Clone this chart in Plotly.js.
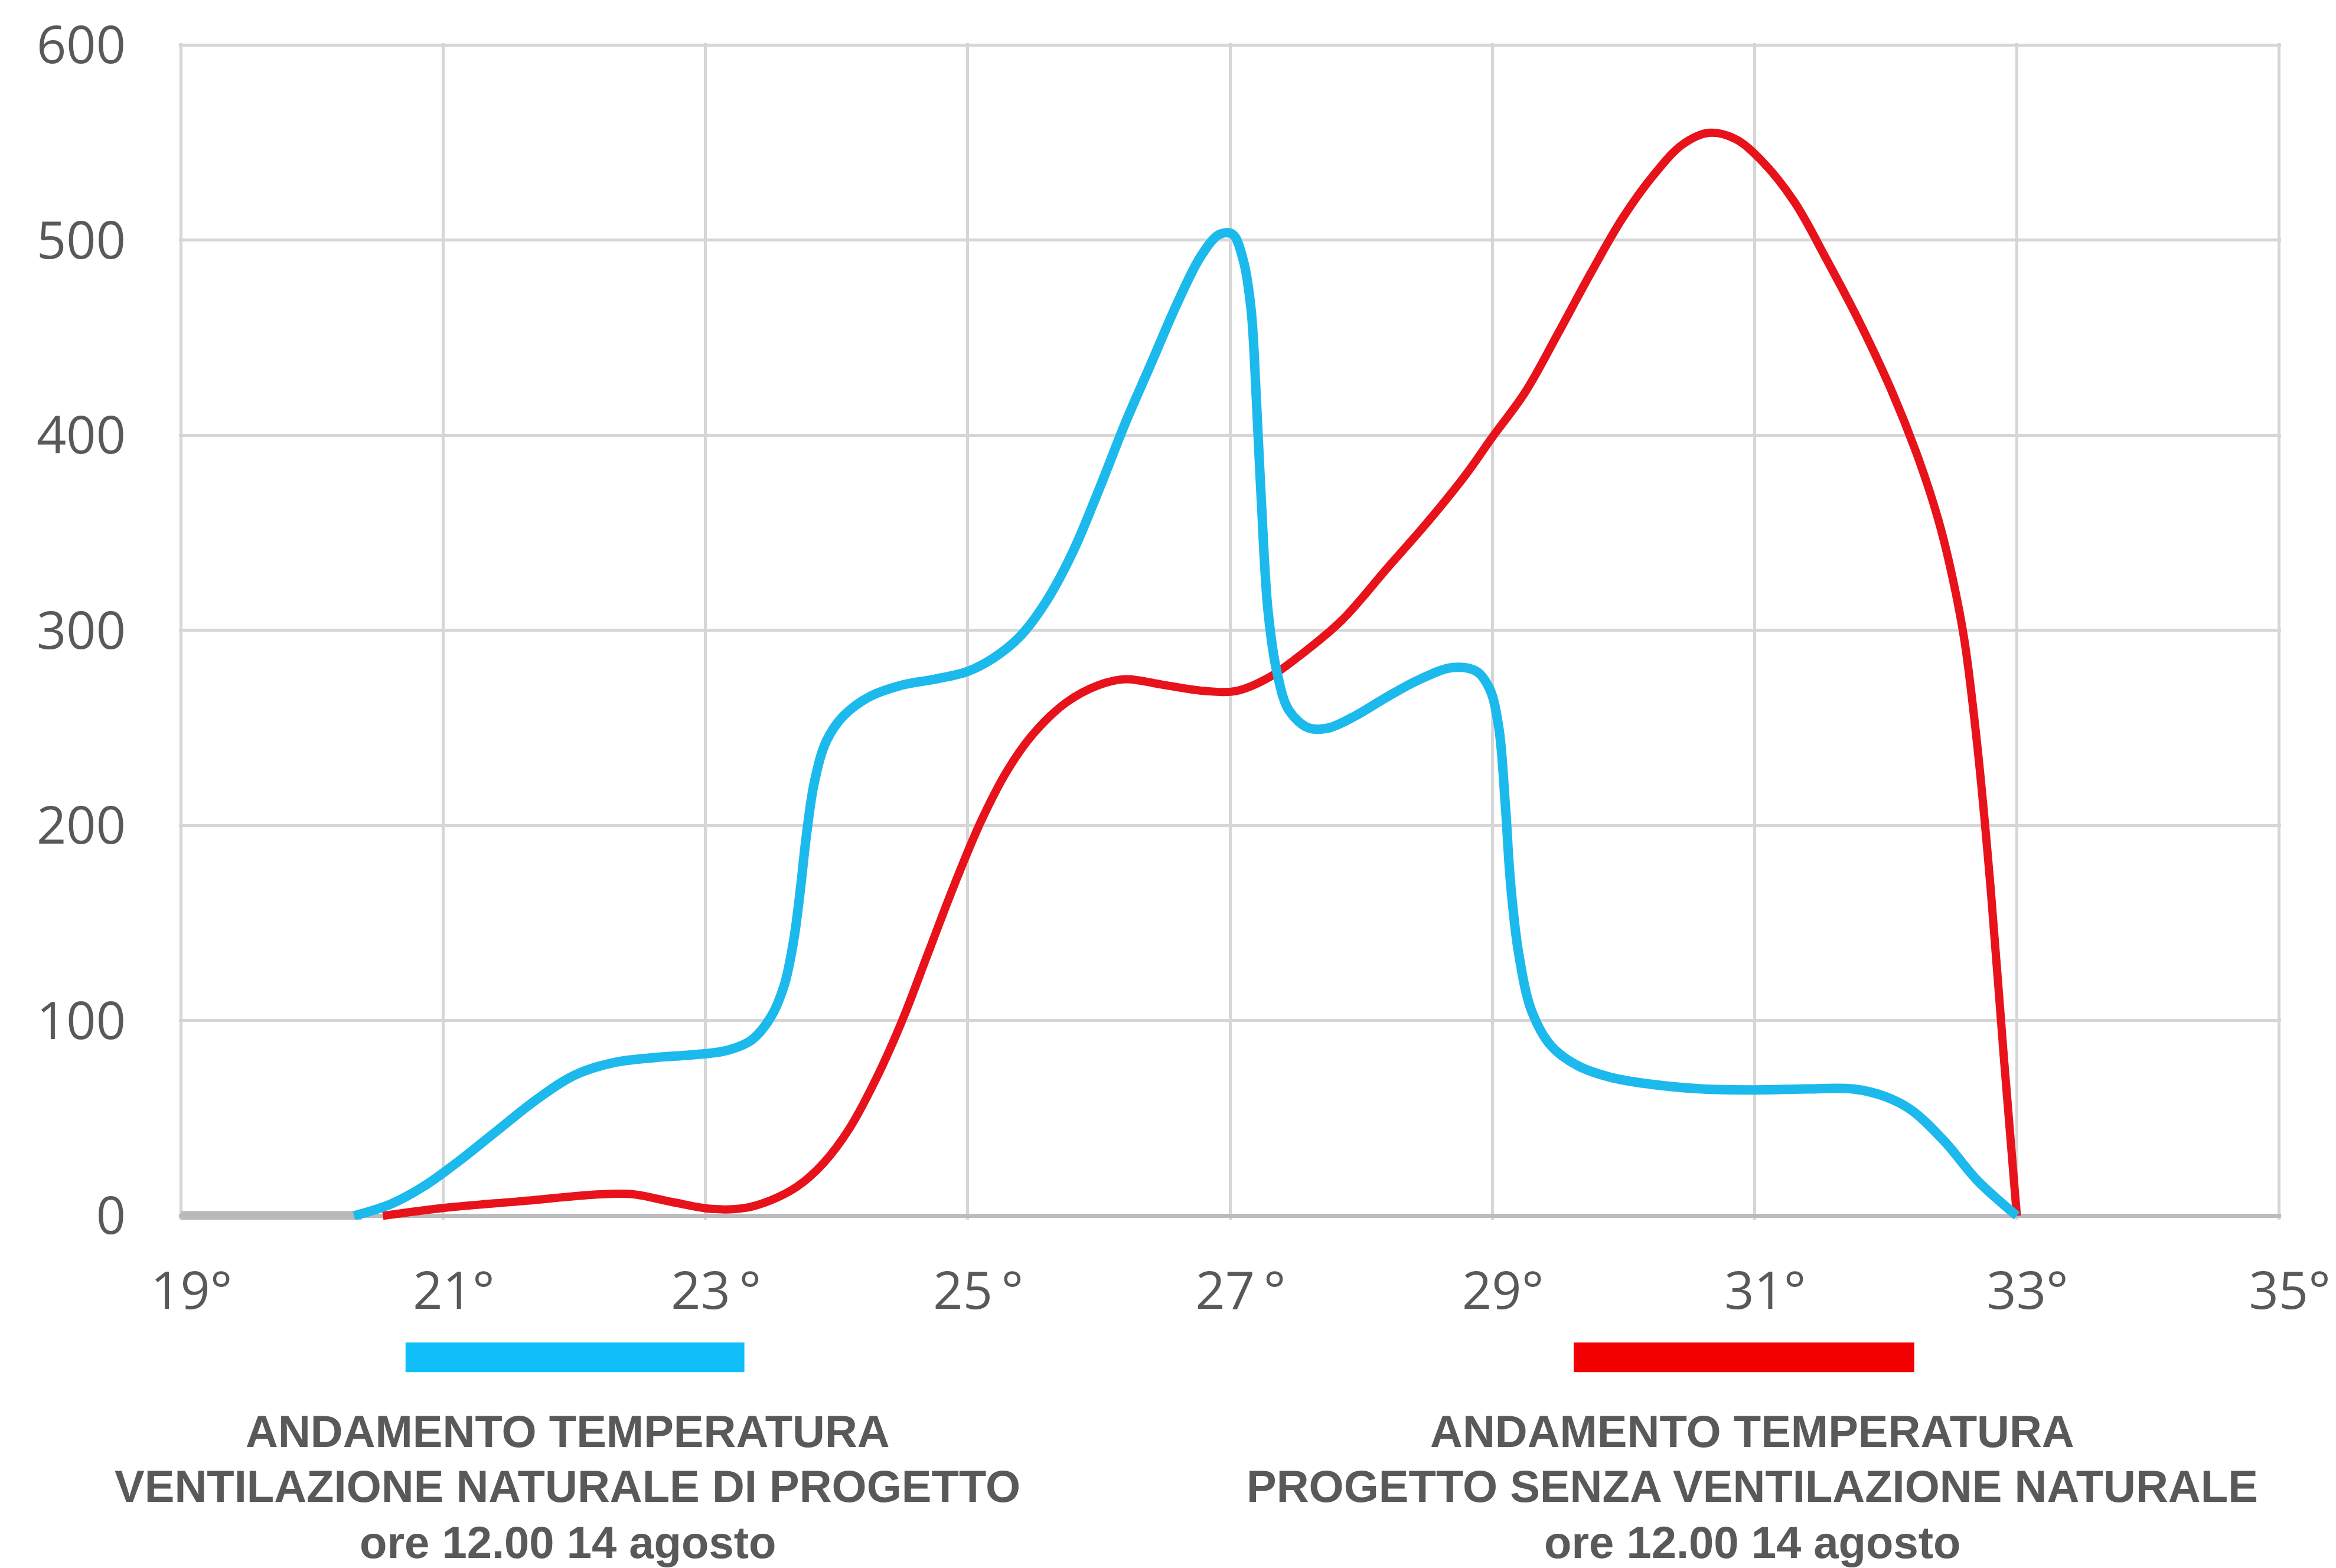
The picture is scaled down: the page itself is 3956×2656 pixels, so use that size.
<!DOCTYPE html>
<html>
<head>
<meta charset="utf-8">
<script src="https://cdn.plot.ly/plotly-3.0.1.min.js"></script>
<style>
  html, body { margin: 0; padding: 0; background: #ffffff; }
  #chart { width: 3956px; height: 2656px; }
</style>
</head>
<body>
<div id="chart"></div>
<script>
// ---- Data ----
// Gray base series (flat at zero)
const tempGray = [19, 20.38];
const valGray  = [0, 0];

// Blue: ventilazione naturale di progetto
const tempBlue = [20.32, 20.6, 20.85, 21.1, 21.4, 21.7, 22.0, 22.3, 22.6, 22.9,
                  23.15, 23.35, 23.5, 23.6, 23.67, 23.72, 23.77, 23.83, 23.92, 24.05,
                  24.25, 24.5, 24.75, 25.0, 25.2, 25.4, 25.6, 25.8, 26.0, 26.2,
                  26.4, 26.6, 26.78, 26.92, 27.02, 27.1, 27.16, 27.2, 27.24, 27.29,
                  27.36, 27.45, 27.6, 27.75, 27.95, 28.2, 28.45, 28.7, 28.88, 28.98,
                  29.05, 29.1, 29.14, 29.2, 29.3, 29.45, 29.65, 29.9, 30.2, 30.6,
                  31.0, 31.4, 31.75, 32.0, 32.2, 32.45, 32.7, 33.0];
const valBlue  = [0, 6, 15, 27, 43, 59, 72, 78.5, 81, 82.5,
                  84.5, 90, 102, 118, 140, 165, 195, 222, 243, 256,
                  266, 272, 275, 279, 286, 297, 315, 340, 372, 406,
                  437, 468, 492, 503, 503, 490, 465, 420, 365, 310,
                  278, 259, 250, 250, 256, 266, 275, 281, 279, 270,
                  250, 210, 170, 135, 105, 87, 77, 71, 67.5, 65,
                  64.5, 65, 65, 61, 54, 38, 18, 0];

// Red: progetto senza ventilazione naturale
const tempRed = [20.54, 21.0, 21.6, 22.2, 22.45, 22.75, 23.05, 23.3, 23.5, 23.7,
                 23.9, 24.1, 24.3, 24.5, 24.7, 24.9, 25.1, 25.3, 25.5, 25.75,
                 26.0, 26.2, 26.5, 26.8, 27.05, 27.3, 27.55, 27.85, 28.2, 28.5,
                 28.8, 29.0, 29.25, 29.5, 29.75, 30.0, 30.25, 30.45, 30.65, 30.85,
                 31.05, 31.3, 31.55, 31.8, 32.05, 32.25, 32.4, 32.5, 32.6, 32.7,
                 32.8, 32.9, 33.0];
const valRed  = [0, 4, 7.5, 11, 11, 7, 3.5, 4, 8, 15,
                 27, 45, 70, 100, 135, 170, 202, 228, 247, 263,
                 272, 275, 272, 269, 269, 276, 288, 305, 332, 355,
                 380, 399, 422, 452, 483, 512, 535, 549, 555, 552,
                 541, 520, 490, 458, 422, 388, 357, 330, 295, 240,
                 168, 82, 0];

// Axis ticks
const xTickVals = [19, 21, 23, 25, 27, 29, 31, 33, 35];
const xTickText = ["19°", "21°", "23\u2009°", "25\u2009°", "27\u2009°", "29°", "31°", "33°", "35°"];
const yTickVals = [0, 100, 200, 300, 400, 500, 600];

// Legend texts
const legendLeft  = ["ANDAMENTO TEMPERATURA", "VENTILAZIONE NATURALE DI PROGETTO", "ore 12.00 14 agosto"];
const legendRight = ["ANDAMENTO TEMPERATURA", "PROGETTO SENZA VENTILAZIONE NATURALE", "ore 12.00 14 agosto"];

// ---- Styles ----
const BLUE = "#1cb9ec";
const RED = "#e8121b";
const BLUE_BAR = "#10bff9";
const RED_BAR = "#f20000";
const GRAY = "#b9b9b9";
const TEXT = "#595959";
const GRID = "#d6d6d6";

const traces = [
  { x: tempGray, y: valGray, type: "scatter", mode: "lines", name: "base",
    line: { color: GRAY, width: 16 }, hoverinfo: "skip", cliponaxis: false },
  { x: tempRed, y: valRed, type: "scatter", mode: "lines", name: legendRight[1],
    line: { color: RED, width: 14, shape: "spline", smoothing: 1.0 }, cliponaxis: false },
  { x: tempBlue, y: valBlue, type: "scatter", mode: "lines", name: legendLeft[1],
    line: { color: BLUE, width: 16, shape: "spline", smoothing: 1.0 }, cliponaxis: false }
];

const legendLineY = [-0.1801, -0.2265, -0.2743];
const annotations = [];
legendLeft.forEach((t, i) => annotations.push({
  xref: "paper", yref: "paper", x: 0.1849, y: legendLineY[i], xanchor: "center", yanchor: "middle",
  text: t, showarrow: false,
  font: { family: "Liberation Sans, Arial, sans-serif", size: 76, color: TEXT, weight: "bold" }
}));
legendRight.forEach((t, i) => annotations.push({
  xref: "paper", yref: "paper", x: 0.7485, y: legendLineY[i], xanchor: "center", yanchor: "middle",
  text: t, showarrow: false,
  font: { family: "Liberation Sans, Arial, sans-serif", size: 76, color: TEXT, weight: "bold" }
}));

const shapes = [
  { type: "rect", xref: "paper", yref: "paper", x0: 0.1078, x1: 0.2690, y0: -0.1296, y1: -0.1044,
    fillcolor: BLUE_BAR, line: { width: 0 } },
  { type: "rect", xref: "paper", yref: "paper", x0: 0.6635, x1: 0.8255, y0: -0.1296, y1: -0.1044,
    fillcolor: RED_BAR, line: { width: 0 } }
];

const layout = {
  width: 3956, height: 2656,
  margin: { l: 303, r: 93, t: 73, b: 590, pad: 0 },
  paper_bgcolor: "#ffffff", plot_bgcolor: "#ffffff",
  showlegend: false,
  xaxis: {
    range: [18.985, 35.015], tickmode: "array", tickvals: xTickVals, ticktext: xTickText,
    showgrid: true, gridcolor: GRID, gridwidth: 5,
    zeroline: false, showline: false, ticks: "",
    ticklabelstandoff: 62, ticklabelshift: 18,
    tickfont: { family: "Open Sans, sans-serif", size: 88, color: TEXT }
  },
  yaxis: {
    range: [-2, 601], tickmode: "array", tickvals: yTickVals,
    showgrid: true, gridcolor: GRID, gridwidth: 5,
    zeroline: true, zerolinecolor: "#bcbcbc", zerolinewidth: 7,
    showline: false, ticks: "",
    ticklabelstandoff: 89,
    tickfont: { family: "Open Sans, sans-serif", size: 88, color: TEXT }
  },
  annotations: annotations,
  shapes: shapes
};

Plotly.newPlot("chart", traces, layout, { staticPlot: true, displayModeBar: false });
</script>
</body>
</html>
